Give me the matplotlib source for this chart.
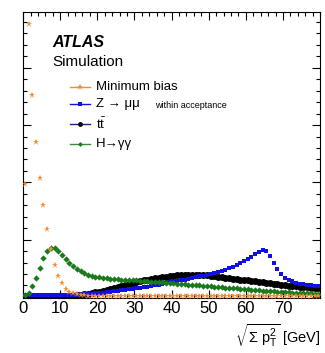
import numpy as np
import matplotlib
matplotlib.use('Agg')
import matplotlib.pyplot as plt
from matplotlib.ticker import MultipleLocator, NullFormatter

plt.rcParams['font.family'] = ['Liberation Sans', 'DejaVu Sans']
plt.rcParams['mathtext.fontset'] = 'custom'
plt.rcParams['mathtext.rm'] = 'Liberation Sans'
plt.rcParams['mathtext.it'] = 'Liberation Sans:italic'

# bin centers (1 GeV bins, 0-80 GeV)
bins = np.arange(80) + 0.5

minbias = [113, 274, 203, 156, 119, 92, 68, 48, 32, 21,
           14, 8, 5, 3.5, 2.5, 2, 1.5, 1.2, 1, 1,
           0.8, 0.8, 0.8, 0.8, 0.8, 0.8, 0.8, 0.8, 0.8, 0.8,
           0.5, 0.5, 0.5, 0.5, 0.5, 0.5, 0.5, 0.5, 0.5, 0.5,
           0.5, 0.5, 0.5, 0.5, 0.5, 0.5, 0.5, 0.5, 0.5, 0.5,
           0.5, 0.5, 0.5, 0.5, 0.5, 0.5, 0.5, 0.5, 0.5, 0.5,
           0.5, 0.5, 0.5, 0.5, 0.5, 0.5, 0.5, 0.5, 0.5, 0.5,
           0.5, 0.5, 0.5, 0.5, 0.5, 0.5, 0.5, 0.5, 0.5, 0.5]

zmumu = [1.5, 1.5, 1.5, 1.5, 1.5, 1.5, 1.5, 1.5, 1.5, 1.5,
         2, 2, 2, 2, 2, 2.5, 2.5, 3, 3, 3.5,
         4, 4, 4.5, 5, 5.5, 6, 6.5, 7, 7.5, 8,
         8.5, 9, 9.5, 10, 11, 11.5, 12, 13, 13.5, 14.5,
         15, 16, 17, 17.5, 18.5, 19, 20, 21, 21.5, 22.5,
         23.5, 24.5, 25.5, 26.5, 27.5, 29, 30.5, 32, 34, 36,
         38, 40.5, 43, 45.5, 47, 46, 41, 34, 28, 23,
         19.5, 17, 15.5, 14, 13, 12.5, 12, 11.5, 11, 10.5]

ttbar = [1, 1, 1, 1, 1, 1, 1, 1, 1, 1,
         1, 1, 1, 1, 1.5, 2, 2.5, 3, 3.5, 4.5,
         5, 6, 7, 8, 9, 10, 11, 12, 13, 14,
         15, 16, 17, 17.5, 18.5, 19, 19.5, 20, 20.5, 21,
         21.5, 22, 22, 22.5, 22.5, 22.5, 22.5, 22.5, 22, 22,
         21.5, 21, 20.5, 20, 19.5, 19, 18.5, 18, 17.5, 17,
         16.5, 16, 15.5, 15, 14.5, 14, 13.5, 13, 12.5, 12,
         11.5, 11, 10.5, 10.5, 10, 9.5, 9.5, 9, 9, 8.5]

hgg = [1.5, 4, 11, 19, 29, 39, 46, 49, 49.5, 46,
       42, 38, 34, 31, 28, 26, 24, 22.5, 21.5, 20.5,
       20, 19.5, 19, 18.5, 18, 18, 17.5, 17, 17, 16.5,
       16.5, 16, 16, 15.5, 15, 15, 14.5, 14.5, 14, 13.5,
       13.5, 13, 13, 12.5, 12, 12, 11.5, 11.5, 11, 10.5,
       10.5, 10, 10, 9.5, 9, 9, 8.5, 8.5, 8, 7.5,
       7.5, 7, 7, 6.5, 6, 6, 5.5, 5.5, 5, 5,
       4.5, 4.5, 4, 4, 4, 3.5, 3.5, 3.5, 3, 3]

c_mb = '#f58a2e'
c_z = '#1010e0'
c_tt = 'black'
c_h = '#1a7a1a'

fig = plt.figure(figsize=(3.25, 3.53), dpi=100)
ax = fig.add_axes([0.071, 0.156, 0.914, 0.810])

ax.plot(bins, ttbar, 'o', color=c_tt, ms=5, mew=0, zorder=2)
ax.plot(bins, zmumu, 's', color=c_z, ms=3.5, mew=0, zorder=3)
ax.plot(bins, hgg, 'D', color=c_h, ms=3.2, mew=0, zorder=4)
ax.plot(bins, minbias, '*', color=c_mb, ms=5, mew=0, zorder=5)

ax.set_xlim(0, 80)
ax.set_ylim(-1, 286)
ax.xaxis.set_major_locator(MultipleLocator(10))
ax.xaxis.set_minor_locator(MultipleLocator(2))
ax.yaxis.set_major_locator(MultipleLocator(57.5))
ax.yaxis.set_minor_locator(MultipleLocator(11.5))
ax.yaxis.set_major_formatter(NullFormatter())
ax.tick_params(which='both', direction='in', top=True, right=True, width=0.8)
ax.tick_params(which='major', length=6, labelsize=12, pad=2)
ax.tick_params(which='minor', length=3)
ax.set_xticks([0, 10, 20, 30, 40, 50, 60, 70])

fig.text(0.985, 0.012, r'$\sqrt{\Sigma\ \mathrm{p}_{\mathrm{T}}^{2}}$ [GeV]',
         ha='right', va='bottom', fontsize=10.5)

ax.text(0.098, 0.895, 'ATLAS', transform=ax.transAxes, fontsize=11.5,
        fontweight='bold', fontstyle='italic', va='center')
ax.text(0.098, 0.825, 'Simulation', transform=ax.transAxes, fontsize=11, va='center')

# legend drawn by hand
rows = [0.738, 0.678, 0.608, 0.538]
entries = [('Minimum bias', c_mb, c_mb, '*', 5),
           ('Z → μμ', c_z, c_z, 's', 3),
           (r'$\mathrm{t\bar{t}}$', '#20208a', 'black', 'o', 3.5),
           ('H→γγ', '#3a8a3a', c_h, 'D', 2.5)]
for yr, (lab, lc, mc, mk, ms) in zip(rows, entries):
    ax.plot([0.158, 0.226], [yr, yr], color=lc, lw=1, transform=ax.transAxes)
    ax.plot([0.192], [yr], mk, color=mc, ms=ms, mew=0, transform=ax.transAxes)
    ax.text(0.246, yr, lab, transform=ax.transAxes, fontsize=9.5, va='center')
ax.text(0.445, rows[1] - 0.005, 'within acceptance', transform=ax.transAxes,
        fontsize=6.5, va='center')

fig.savefig('out.png', dpi=100)
